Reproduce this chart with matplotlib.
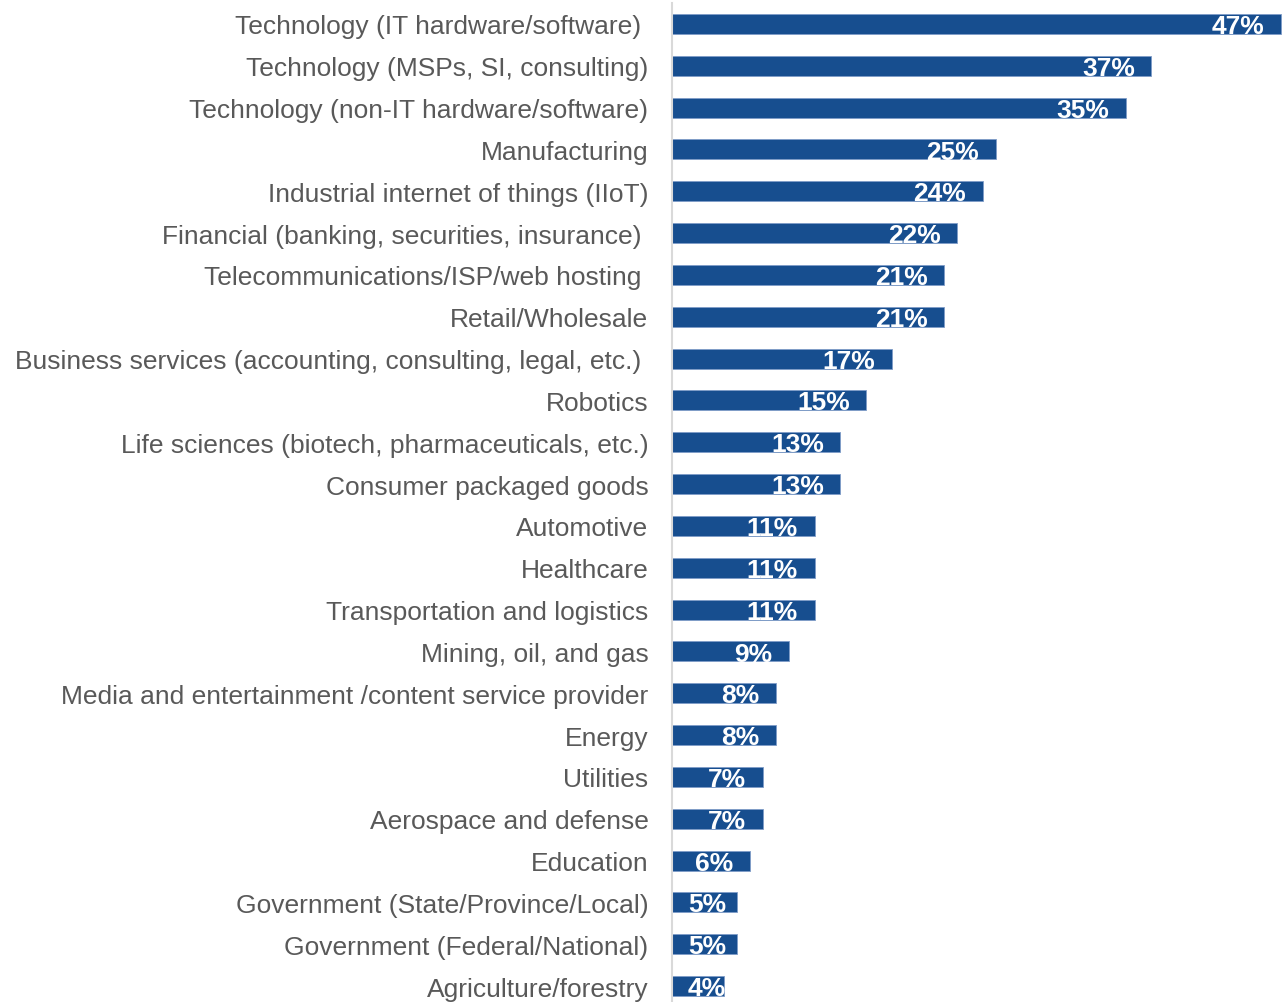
import matplotlib.pyplot as plt

plt.rcParams["font.family"] = ["Liberation Sans", "DejaVu Sans"]

categories = [
    "Technology (IT hardware/software) ",
    "Technology (MSPs, SI, consulting)",
    "Technology (non-IT hardware/software)",
    "Manufacturing",
    "Industrial internet of things (IIoT)",
    "Financial (banking, securities, insurance) ",
    "Telecommunications/ISP/web hosting ",
    "Retail/Wholesale",
    "Business services (accounting, consulting, legal, etc.) ",
    "Robotics",
    "Life sciences (biotech, pharmaceuticals, etc.)",
    "Consumer packaged goods",
    "Automotive",
    "Healthcare",
    "Transportation and logistics",
    "Mining, oil, and gas",
    "Media and entertainment /content service provider",
    "Energy",
    "Utilities",
    "Aerospace and defense",
    "Education",
    "Government (State/Province/Local)",
    "Government (Federal/National)",
    "Agriculture/forestry",
]
values = [47, 37, 35, 25, 24, 22, 21, 21, 17, 15, 13, 13, 11, 11, 11, 9, 8, 8, 7, 7, 6, 5, 5, 4]

bar_color = "#174E8F"
text_gray = "#595959"

W, H = 1284, 1003
fig = plt.figure(figsize=(W / 100, H / 100), dpi=100)
ax = fig.add_axes([672 / W, 1 - 1008 / H, 610 / W, 1004 / H])

pos = list(range(len(values)))
ax.barh(pos, values, height=0.48, color=bar_color, edgecolor="#7F9CC8", linewidth=0.6)
ax.set_ylim(len(values) - 0.5, -0.5)
ax.set_xlim(0, 47 * 610 / 609)

ax.set_yticks(pos)
ax.set_yticklabels(categories, fontsize=19, color=text_gray)
ax.tick_params(axis="y", length=0, pad=17)
ax.set_xticks([])
for side in ["top", "right", "bottom"]:
    ax.spines[side].set_visible(False)
ax.spines["left"].set_color("#D9D9D9")
ax.spines["left"].set_linewidth(1.5)

# value labels at the inner end of each bar
labels = []
for y, v in zip(pos, values):
    t = ax.annotate(f"{v}%", xy=(v, y), xytext=(-12, -1.5), textcoords="offset points",
                    ha="right", va="center", color="white", fontsize=19,
                    fontweight="bold")
    labels.append(t)

# short bars: keep the label from running past the axis start
fig.canvas.draw()
renderer = fig.canvas.get_renderer()
x0 = ax.transData.transform((0, 0))[0]
for t in labels:
    bb = t.get_window_extent(renderer)
    if bb.x0 < x0 + 16:
        dx = (x0 + 16 - bb.x0) * 72 / fig.dpi
        ox, oy = t.xyann
        t.xyann = (ox + dx, oy)

fig.savefig("out.png", dpi=100)
